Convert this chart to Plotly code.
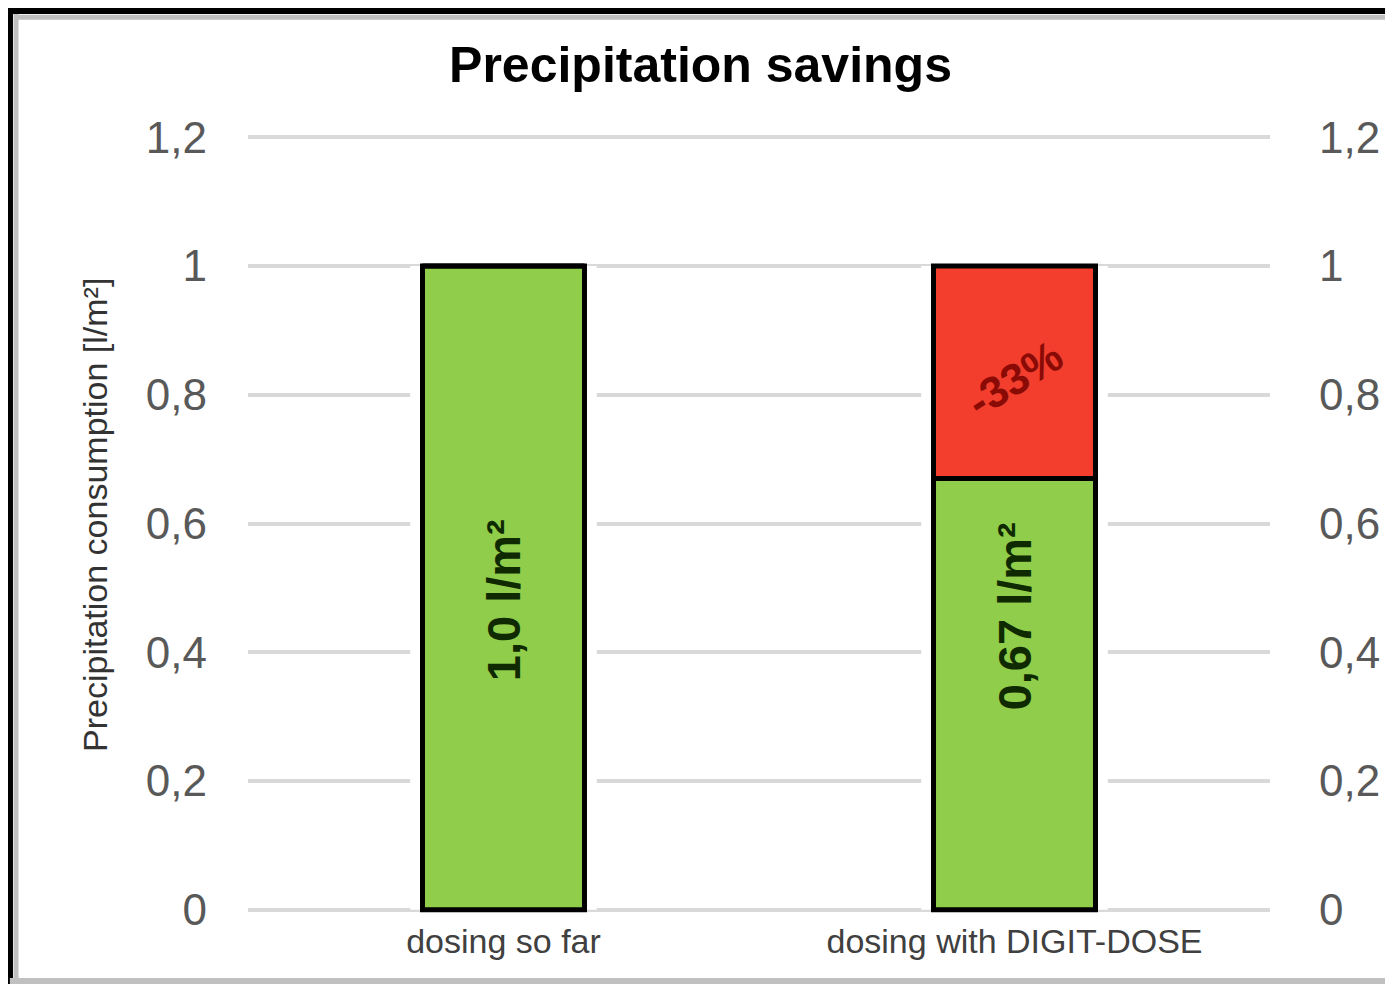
import plotly.graph_objects as go

categories = ["dosing so far", "dosing with DIGIT-DOSE"]
consumption = [1.0, 0.67]
savings = [0.0, 0.33]
bar_labels = ["1,0 l/m²", "0,67 l/m²"]
label_y = [0.48, 0.455]
saving_label = "-33%"
saving_label_y = 0.826
tick_vals = [0, 0.2, 0.4, 0.6, 0.8, 1.0, 1.2]
tick_text = ["0", "0,2", "0,4", "0,6", "0,8", "1", "1,2"]
y_title = "Precipitation consumption [l/m²]"

totals = [c + s for c, s in zip(consumption, savings)]

GREEN = "#8fcd4a"
RED = "#f33e2d"
TICK_FONT = dict(family="Liberation Sans", size=44, color="#595959")

fig = go.Figure()
# white halo behind bars (gridline gap)
fig.add_trace(go.Bar(x=categories, y=totals, width=0.365, marker=dict(color="white", line=dict(width=0)),
                     hoverinfo="skip", showlegend=False))
fig.add_trace(go.Bar(x=categories, y=consumption, width=0.317, marker=dict(color=GREEN, line=dict(color="black", width=5)),
                     showlegend=False))
fig.add_trace(go.Bar(x=categories, y=savings, base=consumption, width=0.317,
                     marker=dict(color=RED, line=dict(color="black", width=5)), showlegend=False))
# invisible trace for right axis
fig.add_trace(go.Scatter(x=categories, y=consumption, yaxis="y2", mode="markers",
                         marker=dict(opacity=0), hoverinfo="skip", showlegend=False))

for cat, lab, yy in zip(categories, bar_labels, label_y):
    fig.add_annotation(x=cat, y=yy, text="<b>" + lab + "</b>", textangle=-90, showarrow=False,
                       font=dict(family="Liberation Sans", size=47, color="#0f2a00"))
fig.add_annotation(x=categories[1], y=saving_label_y, text="<b>" + saving_label + "</b>", textangle=-32,
                   showarrow=False, font=dict(family="Liberation Sans", size=44, color="#8a0a06"))

# y-axis title
fig.add_annotation(xref="paper", yref="paper", x=-0.1497, y=0.511, xanchor="center", yanchor="middle",
                   text=y_title, textangle=-90,
                   showarrow=False, font=dict(family="Liberation Sans", size=34, color="#333333"))

# outer frame
fig.add_shape(type="line", xref="paper", yref="paper", x0=-0.233, x1=1.12, y0=1.158, y1=1.158,
              line=dict(color="black", width=6))
fig.add_shape(type="line", xref="paper", yref="paper", x0=-0.227, x1=1.12, y0=1.150, y1=1.150,
              line=dict(color="#c0c0c0", width=5))
fig.add_shape(type="line", xref="paper", yref="paper", x0=-0.2329, x1=-0.2329, y0=-0.095, y1=1.162,
              line=dict(color="black", width=6))
fig.add_shape(type="line", xref="paper", yref="paper", x0=-0.227, x1=-0.227, y0=-0.095, y1=1.154,
              line=dict(color="#c0c0c0", width=5))
fig.add_shape(type="line", xref="paper", yref="paper", x0=-0.233, x1=1.12, y0=-0.0873, y1=-0.0873,
              line=dict(color="#c0c0c0", width=6))

fig.update_layout(
    width=1385, height=976,
    paper_bgcolor="white", plot_bgcolor="white",
    margin=dict(l=240, r=123, t=126, b=71),
    barmode="overlay",
    bargap=0.3,
    title=dict(text="<b>Precipitation savings</b>", x=0.5, xanchor="center", y=0.9416, yanchor="middle",
               font=dict(family="Liberation Sans", size=50, color="black")),
    xaxis=dict(showgrid=False, showline=False, zeroline=False, ticks="", ticklabelstandoff=5,
               tickfont=dict(family="Liberation Sans", size=34, color="#404040")),
    yaxis=dict(range=[-0.005, 1.205], tickvals=tick_vals, ticktext=tick_text, showgrid=True,
               gridcolor="#d9d9d9", gridwidth=4, zeroline=False, showline=False,
               tickfont=TICK_FONT, ticklabelstandoff=40),
    yaxis2=dict(range=[-0.005, 1.205], tickvals=tick_vals, ticktext=tick_text, overlaying="y", side="right",
                showgrid=False, zeroline=False, showline=False, tickfont=TICK_FONT, ticklabelstandoff=48),
)

fig.write_html("out.html")
